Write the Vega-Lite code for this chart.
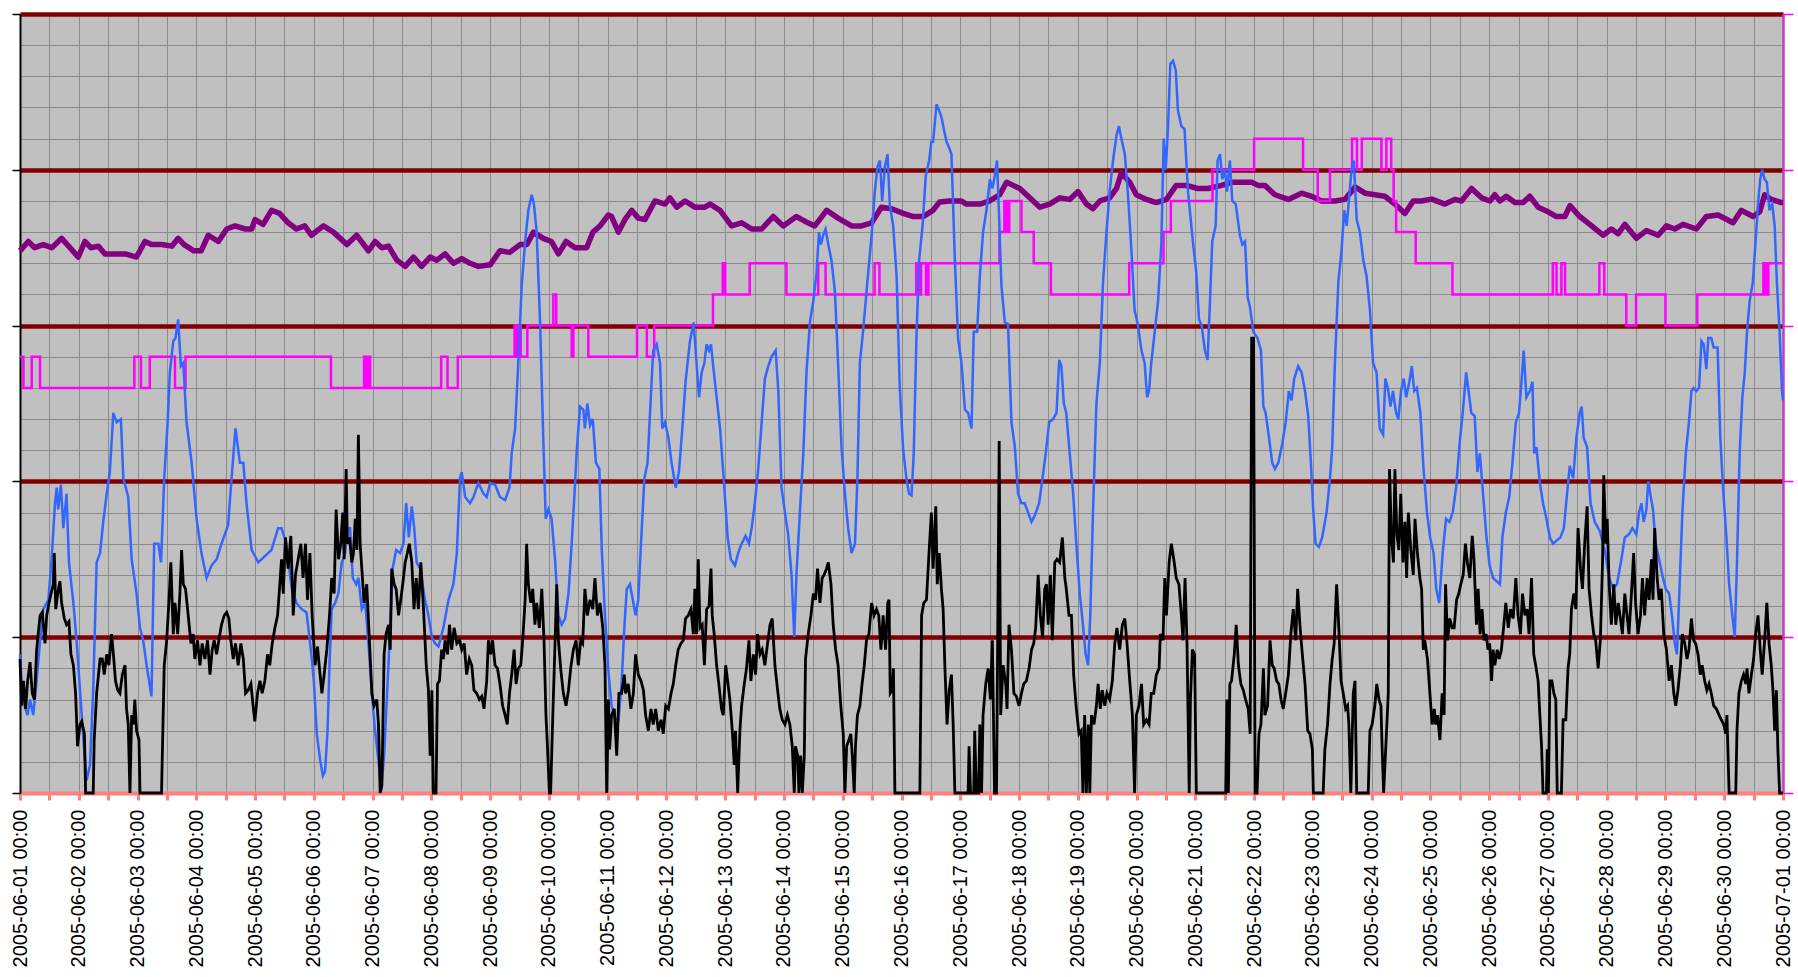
{
"$schema":"https://vega.github.io/schema/vega-lite/v6.json",
"width":1763,"height":779,
"autosize":{"type":"none"},
"padding":{"left":20,"top":14,"right":15,"bottom":184},
"background":"white",
"config":{"view":{"fill":"#C0C0C0","stroke":null},"axis":{"labelFont":"Liberation Sans"}},
"datasets":{
"purple":[{"h":0,"v":17.4},{"h":3.4,"v":17.7},{"h":6,"v":17.5},{"h":9.5,"v":17.6},{"h":13,"v":17.5},{"h":17,"v":17.8},{"h":20.4,"v":17.5},{"h":23.8,"v":17.2},{"h":26.5,"v":17.7},{"h":29,"v":17.5},{"h":32,"v":17.55},{"h":34.7,"v":17.3},{"h":38.8,"v":17.3},{"h":43,"v":17.3},{"h":47.6,"v":17.2},{"h":51,"v":17.7},{"h":53.7,"v":17.6},{"h":57.8,"v":17.6},{"h":62,"v":17.55},{"h":64.6,"v":17.8},{"h":67,"v":17.6},{"h":71,"v":17.4},{"h":74,"v":17.4},{"h":76.9,"v":17.9},{"h":81,"v":17.7},{"h":84.4,"v":18.1},{"h":87.8,"v":18.2},{"h":92,"v":18.1},{"h":94.6,"v":18.1},{"h":96,"v":18.4},{"h":99.3,"v":18.25},{"h":102.7,"v":18.7},{"h":106,"v":18.6},{"h":109.5,"v":18.3},{"h":112.9,"v":18.1},{"h":116.3,"v":18.2},{"h":119,"v":17.9},{"h":123.9,"v":18.2},{"h":128,"v":18.0},{"h":133.5,"v":17.6},{"h":137.5,"v":17.9},{"h":142.3,"v":17.4},{"h":145,"v":17.7},{"h":147.8,"v":17.5},{"h":150.5,"v":17.55},{"h":153.9,"v":17.1},{"h":157.3,"v":16.9},{"h":160.7,"v":17.2},{"h":164,"v":16.9},{"h":167.5,"v":17.2},{"h":170.2,"v":17.1},{"h":173.6,"v":17.3},{"h":177,"v":17.0},{"h":180.4,"v":17.15},{"h":183.8,"v":17.0},{"h":187.2,"v":16.9},{"h":192,"v":16.95},{"h":196,"v":17.4},{"h":200,"v":17.35},{"h":204.2,"v":17.6},{"h":207,"v":17.6},{"h":209.7,"v":18.0},{"h":213.7,"v":17.8},{"h":217,"v":17.7},{"h":219.9,"v":17.3},{"h":223,"v":17.7},{"h":226.7,"v":17.5},{"h":231.4,"v":17.5},{"h":234,"v":18.0},{"h":236.9,"v":18.2},{"h":240.3,"v":18.55},{"h":241.6,"v":18.5},{"h":244.4,"v":18.0},{"h":247,"v":18.4},{"h":249.8,"v":18.7},{"h":252.5,"v":18.45},{"h":255.2,"v":18.4},{"h":259.3,"v":19.0},{"h":263.4,"v":18.9},{"h":265.4,"v":19.1},{"h":268.2,"v":18.8},{"h":271.6,"v":19.0},{"h":275.6,"v":18.8},{"h":279.7,"v":18.8},{"h":281.8,"v":18.9},{"h":285.9,"v":18.7},{"h":290.6,"v":18.2},{"h":294.7,"v":18.3},{"h":298.8,"v":18.1},{"h":302.9,"v":18.1},{"h":307.6,"v":18.5},{"h":311.7,"v":18.2},{"h":317.1,"v":18.5},{"h":320.5,"v":18.35},{"h":324.6,"v":18.2},{"h":329.4,"v":18.7},{"h":334.1,"v":18.45},{"h":339.6,"v":18.2},{"h":343.7,"v":18.2},{"h":347.8,"v":18.3},{"h":351.8,"v":18.8},{"h":355.9,"v":18.75},{"h":360.7,"v":18.6},{"h":364.8,"v":18.5},{"h":368.8,"v":18.5},{"h":372.9,"v":18.7},{"h":375.6,"v":18.97},{"h":379.7,"v":19.0},{"h":384.5,"v":19.0},{"h":386.5,"v":18.9},{"h":392,"v":18.9},{"h":396,"v":19.0},{"h":400.1,"v":19.2},{"h":402.9,"v":19.6},{"h":405.6,"v":19.5},{"h":408.3,"v":19.4},{"h":412.4,"v":19.1},{"h":416.5,"v":18.8},{"h":420.5,"v":18.9},{"h":424.6,"v":19.1},{"h":428.7,"v":19.05},{"h":432.1,"v":19.3},{"h":435.5,"v":18.9},{"h":438.2,"v":18.75},{"h":441,"v":19.0},{"h":445,"v":19.1},{"h":447.8,"v":19.4},{"h":449.8,"v":19.9},{"h":453.2,"v":19.6},{"h":455.9,"v":19.2},{"h":460,"v":19.05},{"h":464,"v":18.95},{"h":468.2,"v":19.05},{"h":472.2,"v":19.5},{"h":476.3,"v":19.5},{"h":481,"v":19.4},{"h":485.3,"v":19.4},{"h":490.7,"v":19.5},{"h":494.8,"v":19.6},{"h":503,"v":19.6},{"h":505.7,"v":19.5},{"h":508.4,"v":19.5},{"h":512.5,"v":19.2},{"h":518,"v":19.05},{"h":523.4,"v":19.25},{"h":527.5,"v":19.15},{"h":531.6,"v":19.0},{"h":537,"v":19.0},{"h":541.1,"v":19.05},{"h":545.2,"v":19.45},{"h":549.3,"v":19.25},{"h":553.3,"v":19.2},{"h":557.4,"v":19.15},{"h":561.5,"v":18.9},{"h":565.6,"v":18.6},{"h":569,"v":19.0},{"h":572.4,"v":19.0},{"h":576.5,"v":19.06},{"h":581.9,"v":18.9},{"h":586,"v":19.05},{"h":588.7,"v":19.0},{"h":592.8,"v":19.4},{"h":596.9,"v":19.1},{"h":600.3,"v":19.0},{"h":602.3,"v":19.2},{"h":604.4,"v":19.0},{"h":607,"v":19.15},{"h":610.5,"v":18.95},{"h":613.9,"v":18.95},{"h":616.6,"v":19.15},{"h":620,"v":18.8},{"h":624.1,"v":18.65},{"h":627.5,"v":18.5},{"h":630.9,"v":18.5},{"h":633,"v":18.85},{"h":637,"v":18.5},{"h":641.1,"v":18.25},{"h":646.5,"v":17.9},{"h":649.9,"v":18.1},{"h":652.7,"v":17.95},{"h":655.4,"v":18.25},{"h":660.1,"v":17.8},{"h":664.2,"v":18.05},{"h":669,"v":17.9},{"h":672.4,"v":18.2},{"h":675.8,"v":18.1},{"h":679.2,"v":18.25},{"h":684.6,"v":18.1},{"h":688.7,"v":18.5},{"h":693.5,"v":18.55},{"h":699.6,"v":18.3},{"h":703,"v":18.7},{"h":707.8,"v":18.5},{"h":710.5,"v":18.65},{"h":712.5,"v":19.2},{"h":715.2,"v":19.05},{"h":719.3,"v":18.95},{"h":720,"v":18.95}],
"magenta":[{"h":0,"v":14},{"h":1.4,"v":13},{"h":4.8,"v":14},{"h":8.2,"v":13},{"h":46.7,"v":14},{"h":49.4,"v":13},{"h":53,"v":14},{"h":63.3,"v":13},{"h":67.6,"v":14},{"h":127,"v":13},{"h":140.5,"v":14},{"h":141.5,"v":13},{"h":142.2,"v":14},{"h":143,"v":13},{"h":172,"v":14},{"h":174.6,"v":13},{"h":178.8,"v":14},{"h":202,"v":15},{"h":202.5,"v":14},{"h":203,"v":15},{"h":203.5,"v":14},{"h":204,"v":15},{"h":204.5,"v":14},{"h":207.2,"v":15},{"h":217.8,"v":16},{"h":219,"v":15},{"h":225.3,"v":14},{"h":226,"v":15},{"h":232.1,"v":14},{"h":252,"v":15},{"h":256,"v":14},{"h":259,"v":15},{"h":283,"v":16},{"h":287,"v":17},{"h":288,"v":16},{"h":298,"v":17},{"h":313,"v":16},{"h":326,"v":17},{"h":329,"v":16},{"h":349,"v":17},{"h":351,"v":16},{"h":366,"v":17},{"h":367,"v":16},{"h":368,"v":17},{"h":370,"v":16},{"h":371,"v":17},{"h":400,"v":18},{"h":402,"v":19},{"h":402.5,"v":18},{"h":403,"v":19},{"h":403.5,"v":18},{"h":404,"v":19},{"h":409,"v":18},{"h":414,"v":17},{"h":421,"v":16},{"h":453,"v":17},{"h":467,"v":18},{"h":470,"v":19},{"h":487,"v":20},{"h":504,"v":21},{"h":524,"v":20},{"h":530,"v":19},{"h":535,"v":20},{"h":544,"v":21},{"h":546,"v":20},{"h":548,"v":21},{"h":556,"v":20},{"h":558,"v":21},{"h":560,"v":20},{"h":561,"v":19},{"h":562,"v":18},{"h":570,"v":17},{"h":585,"v":16},{"h":626,"v":17},{"h":627.5,"v":16},{"h":629.5,"v":17},{"h":631,"v":16},{"h":645,"v":17},{"h":647,"v":16},{"h":656,"v":15},{"h":660,"v":16},{"h":672,"v":15},{"h":685,"v":16},{"h":712,"v":17},{"h":713,"v":16},{"h":714,"v":17},{"h":720,"v":17}],
"blue":[{"h":0,"v":4.45},{"h":0.7,"v":3.5},{"h":2,"v":2.75},{"h":3.1,"v":2.5},{"h":4.1,"v":3.0},{"h":5.4,"v":2.5},{"h":6.8,"v":3.6},{"h":8.2,"v":4.9},{"h":9.5,"v":5.9},{"h":11.6,"v":6.2},{"h":12.9,"v":7.5},{"h":14.3,"v":9.3},{"h":15,"v":9.8},{"h":15.6,"v":9.1},{"h":16.7,"v":9.9},{"h":17.7,"v":8.5},{"h":19,"v":9.6},{"h":20,"v":7.4},{"h":21.8,"v":6.1},{"h":23.1,"v":4.9},{"h":24.5,"v":3.3},{"h":25.9,"v":1.7},{"h":27.2,"v":0.4},{"h":28.6,"v":0.9},{"h":29.9,"v":3.3},{"h":31.3,"v":7.4},{"h":32.7,"v":7.7},{"h":34,"v":8.7},{"h":35.4,"v":9.6},{"h":36.7,"v":10.3},{"h":38.1,"v":12.2},{"h":39.5,"v":11.9},{"h":41.2,"v":12.0},{"h":42.2,"v":10.1},{"h":44.2,"v":9.5},{"h":45.6,"v":7.5},{"h":47.6,"v":6.4},{"h":49,"v":5.3},{"h":50.3,"v":4.9},{"h":51.7,"v":4.1},{"h":53.7,"v":3.1},{"h":54.8,"v":8.0},{"h":56.5,"v":8.0},{"h":57.6,"v":7.4},{"h":58.9,"v":10.1},{"h":60.3,"v":11.9},{"h":61.2,"v":13.5},{"h":62.6,"v":14.5},{"h":63.5,"v":14.6},{"h":64.6,"v":15.2},{"h":65.7,"v":13.7},{"h":66.7,"v":13.8},{"h":68,"v":11.9},{"h":70.1,"v":10.6},{"h":72.1,"v":8.8},{"h":74.1,"v":7.7},{"h":76.2,"v":6.9},{"h":78.2,"v":7.3},{"h":80.3,"v":7.5},{"h":82.3,"v":8.0},{"h":85,"v":8.6},{"h":86.4,"v":10.1},{"h":88,"v":11.7},{"h":89.8,"v":10.6},{"h":91.2,"v":10.6},{"h":92.5,"v":9.3},{"h":94.6,"v":7.8},{"h":97.3,"v":7.4},{"h":100,"v":7.6},{"h":102.7,"v":7.8},{"h":105.4,"v":8.5},{"h":106.8,"v":8.5},{"h":108.8,"v":8.0},{"h":110.9,"v":6.6},{"h":112.9,"v":6.1},{"h":115,"v":5.9},{"h":117,"v":5.8},{"h":119,"v":4.45},{"h":120,"v":3.6},{"h":121.2,"v":1.9},{"h":122.6,"v":1.05},{"h":123.7,"v":0.55},{"h":124.6,"v":0.7},{"h":125.6,"v":2.0},{"h":126.4,"v":4.1},{"h":127.3,"v":5.9},{"h":128.7,"v":6.1},{"h":130,"v":6.4},{"h":131.4,"v":7.4},{"h":132.8,"v":7.7},{"h":133.7,"v":8.5},{"h":134.8,"v":8.5},{"h":135.9,"v":6.9},{"h":137.3,"v":6.7},{"h":138.2,"v":6.9},{"h":139.6,"v":5.9},{"h":141,"v":6.1},{"h":142.3,"v":4.8},{"h":143.7,"v":3.2},{"h":145,"v":2.0},{"h":146.4,"v":1.05},{"h":147.5,"v":0.1},{"h":148.7,"v":1.2},{"h":150.1,"v":3.5},{"h":151.2,"v":5.3},{"h":152.2,"v":7.2},{"h":153.6,"v":7.8},{"h":155.2,"v":7.7},{"h":156.6,"v":8.0},{"h":157.7,"v":9.3},{"h":158.8,"v":8.2},{"h":160,"v":9.2},{"h":161,"v":8.5},{"h":162,"v":7.4},{"h":163.4,"v":7.2},{"h":165.4,"v":6.2},{"h":166.8,"v":5.7},{"h":168.2,"v":5.0},{"h":169.5,"v":4.8},{"h":170.9,"v":4.7},{"h":172.9,"v":5.3},{"h":175,"v":6.2},{"h":177,"v":6.7},{"h":178.4,"v":7.7},{"h":179.7,"v":10.1},{"h":180.4,"v":10.3},{"h":181.8,"v":9.5},{"h":183.8,"v":9.3},{"h":185.2,"v":9.5},{"h":187.2,"v":9.95},{"h":189.3,"v":9.6},{"h":190.6,"v":9.5},{"h":192,"v":9.95},{"h":194,"v":9.9},{"h":196,"v":9.5},{"h":198.1,"v":9.4},{"h":199.9,"v":9.8},{"h":200.8,"v":10.9},{"h":202.2,"v":11.7},{"h":203.5,"v":13.8},{"h":204.9,"v":16.3},{"h":206.3,"v":17.7},{"h":207.6,"v":18.7},{"h":209,"v":19.2},{"h":209.9,"v":18.9},{"h":211,"v":18.0},{"h":212.4,"v":15.1},{"h":213.7,"v":11.4},{"h":214.7,"v":8.8},{"h":215.8,"v":9.1},{"h":217.1,"v":8.8},{"h":218.5,"v":7.5},{"h":219.9,"v":5.7},{"h":221.2,"v":5.4},{"h":222.6,"v":5.6},{"h":224,"v":6.4},{"h":225.3,"v":8.0},{"h":226.7,"v":9.95},{"h":227.3,"v":10.9},{"h":228.7,"v":12.4},{"h":230.1,"v":12.3},{"h":230.7,"v":11.7},{"h":231.7,"v":12.5},{"h":232.8,"v":11.8},{"h":233.9,"v":12.0},{"h":235.2,"v":10.6},{"h":236.6,"v":10.4},{"h":237.6,"v":7.8},{"h":238.9,"v":5.7},{"h":240.3,"v":3.9},{"h":241.6,"v":2.8},{"h":243,"v":2.4},{"h":244.4,"v":2.35},{"h":245.7,"v":3.5},{"h":246.8,"v":5.3},{"h":247.8,"v":6.55},{"h":249.1,"v":6.7},{"h":250.5,"v":6.1},{"h":251.4,"v":5.7},{"h":252.5,"v":6.2},{"h":253.6,"v":8.0},{"h":255,"v":10.1},{"h":256.3,"v":10.6},{"h":257.3,"v":12.2},{"h":258.6,"v":14.2},{"h":260,"v":14.4},{"h":261.4,"v":13.8},{"h":262.3,"v":11.7},{"h":263.4,"v":11.9},{"h":264.8,"v":11.4},{"h":266.1,"v":10.6},{"h":267.8,"v":9.8},{"h":269.1,"v":10.3},{"h":270.5,"v":11.7},{"h":271.8,"v":13.2},{"h":273.6,"v":14.5},{"h":275.1,"v":15.1},{"h":276.3,"v":13.8},{"h":277.3,"v":12.7},{"h":278.4,"v":13.5},{"h":279.5,"v":13.8},{"h":280.4,"v":14.4},{"h":281.4,"v":14.2},{"h":282.2,"v":14.4},{"h":283.1,"v":13.7},{"h":284.5,"v":12.7},{"h":285.9,"v":11.7},{"h":287.2,"v":10.3},{"h":289,"v":8.2},{"h":290.3,"v":7.5},{"h":292,"v":7.3},{"h":293.3,"v":7.7},{"h":294.7,"v":8.0},{"h":296.3,"v":8.25},{"h":297.7,"v":8.0},{"h":298.8,"v":8.5},{"h":300.1,"v":9.3},{"h":301.5,"v":10.4},{"h":302.9,"v":11.9},{"h":304.2,"v":13.3},{"h":305.6,"v":13.7},{"h":306.9,"v":14.0},{"h":308.6,"v":14.2},{"h":309.7,"v":12.9},{"h":311,"v":9.8},{"h":312.4,"v":9.0},{"h":313.7,"v":8.3},{"h":315.1,"v":7.0},{"h":316.2,"v":5.0},{"h":317.1,"v":7.0},{"h":318.5,"v":9.0},{"h":319.9,"v":10.9},{"h":321.2,"v":13.5},{"h":322.6,"v":15.1},{"h":324,"v":15.8},{"h":325.3,"v":16.7},{"h":326.3,"v":18.0},{"h":327.1,"v":17.6},{"h":328,"v":17.9},{"h":329,"v":18.1},{"h":330.1,"v":17.6},{"h":331.4,"v":17.1},{"h":332.8,"v":16.1},{"h":334.1,"v":13.8},{"h":335.5,"v":11.1},{"h":336.9,"v":9.6},{"h":338.2,"v":8.5},{"h":339.6,"v":7.7},{"h":341,"v":8.0},{"h":342,"v":10.1},{"h":343,"v":13.8},{"h":344.4,"v":14.9},{"h":346.4,"v":16.7},{"h":347.8,"v":17.9},{"h":349.1,"v":19.3},{"h":350.2,"v":20.1},{"h":351.2,"v":20.3},{"h":352.1,"v":19.0},{"h":353.2,"v":20.1},{"h":354.3,"v":20.5},{"h":355.2,"v":18.9},{"h":356.6,"v":18.2},{"h":358,"v":16.6},{"h":359.3,"v":13.0},{"h":360.7,"v":11.0},{"h":362,"v":10.1},{"h":363.1,"v":9.6},{"h":364.1,"v":9.55},{"h":365,"v":10.9},{"h":366.1,"v":14.6},{"h":367.2,"v":17.1},{"h":368.6,"v":18.2},{"h":369.9,"v":19.8},{"h":371.3,"v":20.3},{"h":372.2,"v":20.9},{"h":372.9,"v":20.9},{"h":374.3,"v":22.1},{"h":375.4,"v":21.9},{"h":376.3,"v":21.7},{"h":377.3,"v":21.3},{"h":378.4,"v":20.9},{"h":379.5,"v":20.7},{"h":380.4,"v":20.5},{"h":381.8,"v":17.1},{"h":383.1,"v":14.6},{"h":384.5,"v":13.8},{"h":385.9,"v":12.3},{"h":387.2,"v":12.2},{"h":388.6,"v":11.7},{"h":389.5,"v":14.8},{"h":390.9,"v":14.8},{"h":392,"v":16.6},{"h":393.3,"v":18.0},{"h":394.7,"v":18.7},{"h":396.1,"v":19.7},{"h":397.1,"v":19.4},{"h":398.1,"v":19.8},{"h":399,"v":20.3},{"h":399.9,"v":18.4},{"h":400.8,"v":16.3},{"h":402.2,"v":15.1},{"h":403.5,"v":15.05},{"h":404.9,"v":11.9},{"h":406.3,"v":11.1},{"h":407.6,"v":9.6},{"h":409,"v":9.3},{"h":410.3,"v":9.3},{"h":411.7,"v":9.0},{"h":413.1,"v":8.7},{"h":414.4,"v":8.9},{"h":416.2,"v":9.3},{"h":417.6,"v":10.1},{"h":418.9,"v":10.9},{"h":420.3,"v":11.9},{"h":421.9,"v":12.0},{"h":423.3,"v":12.2},{"h":424.4,"v":13.9},{"h":425.3,"v":13.7},{"h":426.3,"v":12.5},{"h":427.3,"v":12.2},{"h":428.7,"v":10.9},{"h":430.1,"v":9.6},{"h":431.4,"v":8.0},{"h":432.8,"v":6.4},{"h":434.1,"v":5.4},{"h":435.2,"v":4.45},{"h":436.2,"v":4.1},{"h":437.1,"v":5.7},{"h":438.2,"v":9.0},{"h":439.6,"v":12.5},{"h":441,"v":13.8},{"h":442.3,"v":16.4},{"h":443.7,"v":18.0},{"h":445,"v":19.3},{"h":446.4,"v":20.3},{"h":447.8,"v":21.1},{"h":448.8,"v":21.4},{"h":449.8,"v":21.0},{"h":451.2,"v":20.5},{"h":452.5,"v":19.2},{"h":453.9,"v":17.4},{"h":455.2,"v":15.5},{"h":456.6,"v":15.0},{"h":458,"v":14.2},{"h":459.3,"v":13.8},{"h":460.3,"v":12.7},{"h":461.1,"v":12.9},{"h":462,"v":13.8},{"h":463.4,"v":14.8},{"h":464.8,"v":15.8},{"h":466.1,"v":17.6},{"h":467.1,"v":21.0},{"h":467.9,"v":20.0},{"h":468.8,"v":21.3},{"h":469.8,"v":23.4},{"h":470.9,"v":23.5},{"h":472,"v":23.2},{"h":472.9,"v":21.9},{"h":474.3,"v":21.4},{"h":475.6,"v":21.3},{"h":477,"v":19.3},{"h":479,"v":17.7},{"h":480.4,"v":16.7},{"h":481.5,"v":15.2},{"h":482.6,"v":15.0},{"h":483.9,"v":14.2},{"h":485,"v":13.9},{"h":486,"v":15.8},{"h":486.9,"v":17.7},{"h":488.3,"v":18.2},{"h":489.1,"v":20.3},{"h":490.1,"v":20.5},{"h":491,"v":19.7},{"h":492.1,"v":20.0},{"h":492.9,"v":19.3},{"h":494.1,"v":20.3},{"h":495.1,"v":19.0},{"h":496.5,"v":18.9},{"h":498.2,"v":17.9},{"h":499.2,"v":17.6},{"h":500.3,"v":17.7},{"h":501.4,"v":15.9},{"h":502.3,"v":15.6},{"h":503.7,"v":14.8},{"h":505.4,"v":14.6},{"h":506.8,"v":14.2},{"h":507.8,"v":12.4},{"h":508.7,"v":12.2},{"h":510.1,"v":11.4},{"h":511.4,"v":10.6},{"h":512.5,"v":10.4},{"h":513.9,"v":10.6},{"h":515.5,"v":11.2},{"h":516.9,"v":11.9},{"h":518.2,"v":12.9},{"h":519.3,"v":12.6},{"h":520.4,"v":13.3},{"h":522,"v":13.7},{"h":523.4,"v":13.5},{"h":524.8,"v":12.9},{"h":526.1,"v":12.1},{"h":527.2,"v":10.6},{"h":528.2,"v":9.0},{"h":529.1,"v":8.0},{"h":530.5,"v":7.9},{"h":531.8,"v":8.2},{"h":533.6,"v":9.0},{"h":535,"v":10.1},{"h":535.9,"v":11.1},{"h":537,"v":13.8},{"h":538.4,"v":16.4},{"h":539.7,"v":17.4},{"h":540.8,"v":18.7},{"h":541.8,"v":18.2},{"h":542.7,"v":19.0},{"h":543.8,"v":20.0},{"h":544.7,"v":20.3},{"h":545.9,"v":18.4},{"h":547.2,"v":18.0},{"h":548.6,"v":17.1},{"h":549.9,"v":16.6},{"h":551.3,"v":15.5},{"h":552.6,"v":13.8},{"h":554,"v":13.5},{"h":555.3,"v":11.7},{"h":556.7,"v":11.5},{"h":557.6,"v":13.3},{"h":558.6,"v":13.0},{"h":559.7,"v":12.4},{"h":560.7,"v":12.9},{"h":562,"v":12.2},{"h":562.9,"v":12.0},{"h":564,"v":12.9},{"h":565.1,"v":13.3},{"h":566.1,"v":12.7},{"h":567.4,"v":13.2},{"h":568.4,"v":13.7},{"h":569.4,"v":12.9},{"h":570.5,"v":13.0},{"h":571.9,"v":12.2},{"h":573.2,"v":10.4},{"h":574.6,"v":9.0},{"h":575.9,"v":8.2},{"h":577.3,"v":7.7},{"h":578.4,"v":6.55},{"h":579.6,"v":6.1},{"h":581,"v":7.7},{"h":582.4,"v":8.8},{"h":583.8,"v":8.7},{"h":585.1,"v":9.0},{"h":586.5,"v":9.8},{"h":587.9,"v":11.2},{"h":589.2,"v":12.2},{"h":590.6,"v":13.5},{"h":591.6,"v":12.9},{"h":592.7,"v":12.2},{"h":594.1,"v":12.1},{"h":595.2,"v":10.3},{"h":596.2,"v":10.9},{"h":597.6,"v":9.5},{"h":598.9,"v":8.2},{"h":600.2,"v":7.3},{"h":601.6,"v":6.9},{"h":603,"v":6.8},{"h":604.4,"v":6.7},{"h":605.4,"v":8.2},{"h":606.8,"v":9.0},{"h":608.2,"v":9.5},{"h":609.5,"v":10.6},{"h":610.9,"v":11.9},{"h":612.2,"v":12.2},{"h":613.2,"v":13.2},{"h":614.1,"v":14.2},{"h":615.2,"v":12.7},{"h":616.6,"v":12.9},{"h":617.7,"v":13.2},{"h":618.4,"v":10.9},{"h":619.3,"v":11.1},{"h":620.7,"v":9.95},{"h":622,"v":9.3},{"h":623.4,"v":8.8},{"h":624.8,"v":8.2},{"h":626.1,"v":8.0},{"h":627.5,"v":8.1},{"h":629.1,"v":8.2},{"h":630.5,"v":8.5},{"h":631.8,"v":9.6},{"h":632.9,"v":10.5},{"h":634.3,"v":10.1},{"h":635.6,"v":11.4},{"h":637,"v":12.2},{"h":637.8,"v":12.4},{"h":638.6,"v":11.4},{"h":640,"v":11.1},{"h":641.4,"v":9.3},{"h":643.1,"v":8.7},{"h":645.2,"v":8.4},{"h":647.2,"v":7.8},{"h":649,"v":6.9},{"h":650.6,"v":6.55},{"h":652.2,"v":6.7},{"h":654,"v":7.5},{"h":655.4,"v":8.2},{"h":657.1,"v":8.3},{"h":658.5,"v":8.5},{"h":660.1,"v":8.3},{"h":661.2,"v":9.0},{"h":662.2,"v":9.3},{"h":663.1,"v":8.7},{"h":664.2,"v":9.1},{"h":665,"v":10.0},{"h":665.8,"v":9.6},{"h":666.9,"v":9.1},{"h":668,"v":8.0},{"h":669.4,"v":7.5},{"h":670.7,"v":7.0},{"h":672.1,"v":6.55},{"h":673.5,"v":6.4},{"h":674.8,"v":5.6},{"h":675.8,"v":4.8},{"h":676.7,"v":4.45},{"h":677.8,"v":6.7},{"h":678.9,"v":9.0},{"h":680.3,"v":10.9},{"h":681.6,"v":11.9},{"h":682.6,"v":12.9},{"h":683.5,"v":13.0},{"h":684.6,"v":12.9},{"h":685.7,"v":13.0},{"h":686.7,"v":14.5},{"h":687.6,"v":14.4},{"h":688.7,"v":13.6},{"h":689.5,"v":14.6},{"h":690.7,"v":14.6},{"h":691.7,"v":14.3},{"h":693.3,"v":14.3},{"h":694.4,"v":11.4},{"h":695.5,"v":9.8},{"h":696.9,"v":8.2},{"h":698,"v":6.7},{"h":699.3,"v":5.7},{"h":700.3,"v":5.0},{"h":701.2,"v":7.4},{"h":702.3,"v":10.9},{"h":703.4,"v":12.7},{"h":704.4,"v":13.5},{"h":705.3,"v":14.8},{"h":706.4,"v":15.8},{"h":707.7,"v":16.4},{"h":708.8,"v":17.7},{"h":709.8,"v":18.9},{"h":710.7,"v":19.7},{"h":711.5,"v":20.0},{"h":712.5,"v":19.7},{"h":713.4,"v":19.6},{"h":714.5,"v":18.7},{"h":715.6,"v":18.9},{"h":716.6,"v":18.2},{"h":717.5,"v":16.4},{"h":718.6,"v":14.8},{"h":719.6,"v":12.9},{"h":720,"v":12.6}],
"black":[{"h":0,"v":4.3},{"h":0.7,"v":2.8},{"h":1.4,"v":3.6},{"h":2.3,"v":2.7},{"h":3.1,"v":3.6},{"h":4.1,"v":4.2},{"h":5,"v":3.2},{"h":5.9,"v":3.0},{"h":6.8,"v":4.6},{"h":8.2,"v":5.7},{"h":9.1,"v":5.8},{"h":10.2,"v":4.8},{"h":10.9,"v":5.7},{"h":11.6,"v":6.0},{"h":12.7,"v":6.4},{"h":13.6,"v":6.7},{"h":14,"v":7.7},{"h":14.6,"v":5.9},{"h":15.4,"v":6.4},{"h":16.3,"v":6.8},{"h":17,"v":6.1},{"h":18.1,"v":5.6},{"h":19,"v":5.4},{"h":20,"v":5.5},{"h":20.8,"v":4.45},{"h":21.8,"v":4.1},{"h":22.7,"v":3.2},{"h":23.5,"v":1.5},{"h":24.5,"v":2.2},{"h":25.2,"v":2.3},{"h":26.3,"v":1.9},{"h":26.8,"v":0},{"h":29.9,"v":0},{"h":30.3,"v":1.7},{"h":31.3,"v":3.2},{"h":32.7,"v":4.3},{"h":33.6,"v":4.3},{"h":34.4,"v":3.8},{"h":35.4,"v":4.45},{"h":36.3,"v":4.1},{"h":37.4,"v":5.1},{"h":38.2,"v":4.4},{"h":39,"v":3.6},{"h":39.9,"v":3.3},{"h":40.8,"v":3.2},{"h":41.8,"v":3.8},{"h":42.9,"v":4.1},{"h":43.5,"v":2.7},{"h":44.2,"v":2.2},{"h":44.9,"v":0},{"h":45.6,"v":2.5},{"h":46.3,"v":2.2},{"h":46.9,"v":3.0},{"h":47.6,"v":2.0},{"h":48.6,"v":1.7},{"h":49,"v":0},{"h":57.8,"v":0},{"h":58.9,"v":4.1},{"h":59.9,"v":4.9},{"h":60.8,"v":6.1},{"h":61.6,"v":7.4},{"h":62.6,"v":5.1},{"h":63.3,"v":6.1},{"h":64.4,"v":5.1},{"h":65.3,"v":6.4},{"h":66,"v":7.8},{"h":66.7,"v":6.7},{"h":67.6,"v":6.55},{"h":68.7,"v":5.7},{"h":69.8,"v":4.8},{"h":70.7,"v":5.1},{"h":71.4,"v":4.3},{"h":72.5,"v":4.9},{"h":73.5,"v":4.1},{"h":74.4,"v":4.8},{"h":75.5,"v":4.3},{"h":76.6,"v":4.9},{"h":77.6,"v":3.8},{"h":78.5,"v":4.6},{"h":79.3,"v":4.9},{"h":80.3,"v":4.45},{"h":81.2,"v":4.9},{"h":82.3,"v":5.4},{"h":83.4,"v":5.7},{"h":84.4,"v":5.8},{"h":85.3,"v":5.6},{"h":86.1,"v":4.9},{"h":87.1,"v":4.3},{"h":88,"v":4.8},{"h":89.1,"v":4.1},{"h":90.2,"v":4.8},{"h":91.2,"v":4.3},{"h":92.1,"v":3.2},{"h":93.2,"v":3.3},{"h":94.3,"v":3.5},{"h":95.2,"v":2.8},{"h":95.9,"v":2.3},{"h":97,"v":3.2},{"h":98,"v":3.6},{"h":98.9,"v":3.2},{"h":100,"v":3.6},{"h":101.1,"v":4.45},{"h":102,"v":4.1},{"h":103,"v":4.8},{"h":104.1,"v":5.3},{"h":105.2,"v":5.7},{"h":106.1,"v":6.7},{"h":106.8,"v":7.5},{"h":107.5,"v":6.4},{"h":108.4,"v":8.2},{"h":109.5,"v":7.2},{"h":110.6,"v":8.25},{"h":111.6,"v":5.7},{"h":112.5,"v":7.0},{"h":113.6,"v":7.5},{"h":114.7,"v":8.0},{"h":115.6,"v":6.9},{"h":116.6,"v":8.0},{"h":117.4,"v":6.2},{"h":118.4,"v":7.7},{"h":119.3,"v":5.7},{"h":120.5,"v":4.1},{"h":121.5,"v":4.7},{"h":122.3,"v":4.0},{"h":123.3,"v":3.2},{"h":124.2,"v":3.8},{"h":125.3,"v":4.6},{"h":126.4,"v":5.7},{"h":127.3,"v":6.9},{"h":128.3,"v":6.4},{"h":129.1,"v":9.1},{"h":130.1,"v":7.5},{"h":131,"v":8.0},{"h":131.8,"v":9.0},{"h":132.4,"v":7.5},{"h":133.2,"v":10.4},{"h":133.7,"v":8.0},{"h":134.6,"v":8.2},{"h":135.5,"v":7.4},{"h":136.2,"v":7.7},{"h":136.9,"v":8.8},{"h":137.6,"v":7.8},{"h":138.2,"v":11.5},{"h":138.9,"v":8.0},{"h":139.6,"v":7.2},{"h":140.5,"v":6.1},{"h":141.6,"v":6.7},{"h":142.7,"v":4.9},{"h":143.7,"v":3.2},{"h":144.6,"v":2.8},{"h":145.7,"v":3.0},{"h":146.4,"v":2.2},{"h":147.1,"v":0},{"h":147.8,"v":0.25},{"h":148.7,"v":4.45},{"h":149.5,"v":5.1},{"h":150.5,"v":5.4},{"h":151.2,"v":4.6},{"h":151.8,"v":7.2},{"h":152.8,"v":6.7},{"h":153.6,"v":6.55},{"h":154.6,"v":5.7},{"h":155.5,"v":6.2},{"h":156.3,"v":6.7},{"h":157.3,"v":7.4},{"h":158.2,"v":7.7},{"h":159,"v":8.0},{"h":160,"v":7.4},{"h":160.9,"v":5.9},{"h":161.8,"v":6.9},{"h":162.7,"v":5.9},{"h":163.7,"v":7.4},{"h":164.8,"v":5.9},{"h":165.9,"v":4.1},{"h":166.8,"v":3.3},{"h":167.5,"v":1.2},{"h":168.2,"v":3.3},{"h":168.8,"v":0},{"h":169.9,"v":0},{"h":170.5,"v":3.5},{"h":171.3,"v":3.6},{"h":172.2,"v":4.6},{"h":172.9,"v":4.3},{"h":173.6,"v":4.9},{"h":174.6,"v":4.45},{"h":175.4,"v":5.4},{"h":176.3,"v":4.6},{"h":177.3,"v":5.3},{"h":178.4,"v":4.8},{"h":179.5,"v":4.9},{"h":180.4,"v":4.6},{"h":181.4,"v":4.8},{"h":182.4,"v":3.8},{"h":183.5,"v":4.3},{"h":184.5,"v":4.1},{"h":185.4,"v":3.3},{"h":186.5,"v":3.2},{"h":187.6,"v":3.0},{"h":188.6,"v":3.1},{"h":189.5,"v":2.7},{"h":190.6,"v":3.6},{"h":191.3,"v":4.9},{"h":192.2,"v":4.45},{"h":193,"v":4.9},{"h":194,"v":4.1},{"h":195,"v":4.0},{"h":196,"v":3.5},{"h":197.1,"v":2.8},{"h":198.1,"v":2.5},{"h":199,"v":2.2},{"h":199.9,"v":3.2},{"h":200.8,"v":3.8},{"h":201.8,"v":4.6},{"h":202.6,"v":3.5},{"h":203.5,"v":4.0},{"h":204.5,"v":4.1},{"h":205.3,"v":4.9},{"h":206.3,"v":6.2},{"h":206.9,"v":8.0},{"h":207.6,"v":6.7},{"h":208.6,"v":6.1},{"h":209.4,"v":6.55},{"h":210.3,"v":5.4},{"h":211,"v":6.1},{"h":212.1,"v":5.3},{"h":213.1,"v":6.55},{"h":214,"v":4.9},{"h":214.8,"v":2.5},{"h":215.4,"v":1.5},{"h":216.2,"v":0},{"h":216.7,"v":0},{"h":217.6,"v":2.5},{"h":218.5,"v":4.8},{"h":219.2,"v":6.7},{"h":219.9,"v":4.9},{"h":220.8,"v":4.0},{"h":221.9,"v":3.2},{"h":223,"v":2.8},{"h":224,"v":3.3},{"h":224.9,"v":4.0},{"h":226,"v":4.6},{"h":227.1,"v":4.9},{"h":228,"v":4.1},{"h":229,"v":4.9},{"h":229.8,"v":4.8},{"h":230.7,"v":6.55},{"h":231.7,"v":5.7},{"h":232.8,"v":6.2},{"h":233.9,"v":5.9},{"h":234.8,"v":6.9},{"h":235.8,"v":5.7},{"h":236.9,"v":6.1},{"h":238,"v":5.3},{"h":238.9,"v":4.1},{"h":239.6,"v":0},{"h":240.3,"v":3.0},{"h":240.8,"v":1.4},{"h":241.6,"v":2.5},{"h":242.7,"v":2.7},{"h":243.7,"v":1.2},{"h":244.6,"v":3.2},{"h":245.7,"v":3.2},{"h":246.8,"v":3.8},{"h":247.3,"v":3.2},{"h":248.4,"v":3.5},{"h":249.5,"v":2.7},{"h":250.5,"v":3.2},{"h":251.4,"v":4.45},{"h":252.5,"v":3.8},{"h":253.6,"v":3.6},{"h":254.6,"v":3.3},{"h":255.5,"v":2.5},{"h":256.6,"v":2.0},{"h":257.7,"v":2.7},{"h":258.6,"v":2.2},{"h":259.6,"v":2.7},{"h":260.7,"v":2.0},{"h":261.8,"v":2.35},{"h":262.7,"v":1.9},{"h":263.7,"v":2.8},{"h":264.8,"v":2.7},{"h":265.9,"v":3.2},{"h":266.8,"v":3.5},{"h":267.8,"v":4.1},{"h":268.8,"v":4.6},{"h":269.9,"v":4.8},{"h":270.9,"v":4.9},{"h":271.8,"v":5.6},{"h":272.9,"v":5.7},{"h":274,"v":5.9},{"h":275,"v":5.1},{"h":275.6,"v":6.55},{"h":276.3,"v":5.1},{"h":277,"v":7.5},{"h":277.7,"v":5.3},{"h":278.6,"v":5.4},{"h":279.5,"v":4.1},{"h":280.4,"v":5.9},{"h":281.4,"v":6.0},{"h":282.2,"v":7.2},{"h":282.7,"v":5.7},{"h":283.5,"v":5.1},{"h":284.5,"v":4.1},{"h":285.4,"v":3.5},{"h":286.5,"v":2.7},{"h":287.2,"v":2.5},{"h":288.2,"v":4.1},{"h":289,"v":3.6},{"h":289.9,"v":3.0},{"h":290.9,"v":2.0},{"h":291.7,"v":0.9},{"h":292.2,"v":2.0},{"h":293.1,"v":0},{"h":294,"v":2.0},{"h":294.7,"v":2.8},{"h":295.8,"v":3.5},{"h":296.7,"v":4.0},{"h":297.7,"v":4.9},{"h":298.5,"v":3.6},{"h":299.5,"v":4.45},{"h":300.4,"v":3.8},{"h":301.2,"v":5.1},{"h":302.2,"v":4.45},{"h":303.1,"v":4.6},{"h":304.2,"v":4.1},{"h":305.3,"v":4.8},{"h":306.3,"v":5.4},{"h":307.2,"v":5.6},{"h":308.3,"v":4.1},{"h":309.4,"v":3.3},{"h":310.3,"v":2.7},{"h":311.3,"v":2.35},{"h":312.4,"v":2.2},{"h":313.4,"v":2.5},{"h":314.4,"v":2.2},{"h":315.4,"v":1.5},{"h":316.2,"v":0},{"h":316.7,"v":1.5},{"h":317.6,"v":1.2},{"h":318.1,"v":0},{"h":318.8,"v":1.2},{"h":319.5,"v":0},{"h":320.3,"v":1.2},{"h":320.8,"v":4.3},{"h":321.9,"v":5.1},{"h":323,"v":5.7},{"h":324,"v":6.4},{"h":324.9,"v":6.2},{"h":325.7,"v":7.2},{"h":326.7,"v":6.1},{"h":327.6,"v":6.9},{"h":328.4,"v":7.0},{"h":329.4,"v":7.2},{"h":330.1,"v":7.4},{"h":331.2,"v":6.7},{"h":332.1,"v":5.4},{"h":333.1,"v":4.6},{"h":334.1,"v":4.1},{"h":335.2,"v":2.8},{"h":336.2,"v":1.9},{"h":336.9,"v":0},{"h":337.6,"v":1.5},{"h":338.5,"v":1.7},{"h":339.3,"v":1.9},{"h":339.9,"v":1.2},{"h":340.7,"v":0},{"h":341.2,"v":1.5},{"h":342,"v":2.5},{"h":343,"v":2.8},{"h":343.9,"v":3.5},{"h":344.8,"v":4.1},{"h":345.7,"v":4.9},{"h":346.7,"v":5.1},{"h":347.8,"v":6.1},{"h":348.8,"v":5.7},{"h":349.8,"v":5.9},{"h":350.7,"v":5.7},{"h":351.6,"v":4.6},{"h":352.5,"v":5.7},{"h":353.5,"v":4.6},{"h":354.4,"v":6.1},{"h":354.9,"v":6.2},{"h":355.4,"v":3.2},{"h":356.2,"v":3.3},{"h":356.7,"v":4.0},{"h":357.3,"v":0},{"h":367.5,"v":0},{"h":368.2,"v":5.7},{"h":369.1,"v":6.1},{"h":370.2,"v":6.2},{"h":371.3,"v":7.8},{"h":372.2,"v":9.0},{"h":372.9,"v":7.2},{"h":374,"v":9.2},{"h":374.6,"v":6.7},{"h":375.4,"v":7.7},{"h":376.3,"v":6.55},{"h":377,"v":5.9},{"h":377.7,"v":4.1},{"h":378.6,"v":2.2},{"h":379.5,"v":3.3},{"h":380.4,"v":3.8},{"h":381.1,"v":2.2},{"h":381.8,"v":0},{"h":387.2,"v":0},{"h":387.6,"v":1.5},{"h":388.2,"v":0},{"h":389.5,"v":0},{"h":389.9,"v":2.0},{"h":390.6,"v":0},{"h":391.5,"v":0},{"h":392,"v":2.2},{"h":392.7,"v":0},{"h":393.3,"v":2.5},{"h":394.4,"v":3.5},{"h":395.4,"v":4.0},{"h":396.3,"v":3.0},{"h":397.1,"v":4.9},{"h":398,"v":0},{"h":398.8,"v":0},{"h":399.9,"v":11.3},{"h":400.5,"v":2.5},{"h":401.5,"v":4.1},{"h":402.6,"v":3.5},{"h":403.1,"v":2.7},{"h":403.9,"v":5.4},{"h":404.9,"v":4.6},{"h":405.9,"v":3.2},{"h":406.9,"v":3.1},{"h":408,"v":2.8},{"h":409,"v":3.2},{"h":409.9,"v":3.5},{"h":411,"v":3.6},{"h":412.1,"v":4.0},{"h":413.1,"v":4.6},{"h":414,"v":4.8},{"h":414.8,"v":5.3},{"h":415.8,"v":7.0},{"h":416.7,"v":5.7},{"h":417.6,"v":5.0},{"h":418.5,"v":6.55},{"h":419.2,"v":6.7},{"h":419.9,"v":5.4},{"h":420.8,"v":7.0},{"h":421.6,"v":4.9},{"h":422.6,"v":7.4},{"h":423.5,"v":7.5},{"h":424.6,"v":7.4},{"h":425.7,"v":8.2},{"h":426.7,"v":6.9},{"h":427.3,"v":6.55},{"h":428.4,"v":5.7},{"h":429.4,"v":5.7},{"h":430.3,"v":3.8},{"h":431.4,"v":2.7},{"h":432.5,"v":1.9},{"h":433.4,"v":2.0},{"h":434.1,"v":0},{"h":434.8,"v":2.5},{"h":435.5,"v":0},{"h":436.3,"v":2.2},{"h":436.9,"v":0},{"h":437.6,"v":2.5},{"h":438.6,"v":2.2},{"h":439.6,"v":2.8},{"h":440.3,"v":3.5},{"h":441.2,"v":2.7},{"h":442,"v":3.3},{"h":443,"v":2.8},{"h":443.9,"v":3.2},{"h":445,"v":3.0},{"h":446.1,"v":3.6},{"h":447.1,"v":4.8},{"h":448,"v":5.3},{"h":449.1,"v":4.6},{"h":450.2,"v":5.4},{"h":451.2,"v":5.6},{"h":452.1,"v":4.8},{"h":453.2,"v":3.6},{"h":454.3,"v":2.5},{"h":455.2,"v":0},{"h":455.9,"v":2.5},{"h":457,"v":2.8},{"h":458,"v":3.5},{"h":458.9,"v":2.2},{"h":460,"v":2.35},{"h":461.1,"v":2.2},{"h":462,"v":3.2},{"h":463,"v":3.2},{"h":464.1,"v":3.8},{"h":465.2,"v":4.0},{"h":465.7,"v":5.1},{"h":466.8,"v":4.9},{"h":467.5,"v":6.9},{"h":468.2,"v":5.7},{"h":469.3,"v":7.4},{"h":470.2,"v":8.0},{"h":471.2,"v":7.5},{"h":472.2,"v":6.9},{"h":473.3,"v":6.7},{"h":474.3,"v":5.7},{"h":475,"v":4.9},{"h":475.8,"v":6.9},{"h":476.6,"v":4.8},{"h":477.5,"v":0},{"h":478,"v":3.0},{"h":478.8,"v":4.6},{"h":479.7,"v":4.45},{"h":480.4,"v":0},{"h":492.4,"v":0},{"h":492.9,"v":3.0},{"h":493.5,"v":0},{"h":494.1,"v":3.5},{"h":494.8,"v":3.6},{"h":495.9,"v":4.45},{"h":496.7,"v":5.4},{"h":497.6,"v":4.1},{"h":498.6,"v":3.5},{"h":499.6,"v":3.3},{"h":500.5,"v":3.0},{"h":501.6,"v":2.7},{"h":502.4,"v":1.9},{"h":503,"v":14.6},{"h":503.8,"v":14.6},{"h":504.4,"v":0},{"h":505.2,"v":0},{"h":506,"v":1.9},{"h":506.8,"v":2.2},{"h":507.8,"v":4.0},{"h":508.4,"v":2.5},{"h":509.5,"v":2.8},{"h":510.5,"v":4.9},{"h":511.4,"v":4.1},{"h":512.2,"v":4.0},{"h":513.2,"v":3.6},{"h":514.1,"v":3.5},{"h":515,"v":3.0},{"h":515.9,"v":2.7},{"h":516.9,"v":3.2},{"h":518,"v":3.8},{"h":519,"v":5.1},{"h":520,"v":5.9},{"h":521,"v":4.9},{"h":521.8,"v":6.55},{"h":522.7,"v":5.4},{"h":523.7,"v":4.45},{"h":524.8,"v":3.5},{"h":525.9,"v":2.0},{"h":526.8,"v":1.9},{"h":527.8,"v":1.4},{"h":528.2,"v":0},{"h":532.2,"v":0},{"h":532.9,"v":1.4},{"h":534,"v":2.2},{"h":535,"v":3.5},{"h":535.9,"v":4.3},{"h":536.7,"v":4.8},{"h":537.7,"v":6.7},{"h":538.6,"v":5.3},{"h":539.5,"v":3.6},{"h":540.4,"v":3.2},{"h":541.4,"v":2.7},{"h":542.2,"v":2.8},{"h":542.7,"v":2.2},{"h":543.5,"v":0},{"h":544.5,"v":3.2},{"h":545.2,"v":3.6},{"h":545.9,"v":0},{"h":550.6,"v":0},{"h":551.3,"v":2.0},{"h":552.2,"v":2.2},{"h":553.3,"v":2.8},{"h":554.1,"v":3.5},{"h":555,"v":3.0},{"h":555.8,"v":2.8},{"h":556.3,"v":1.4},{"h":556.9,"v":0},{"h":558.1,"v":2.0},{"h":558.8,"v":3.2},{"h":559.3,"v":10.4},{"h":560.1,"v":8.2},{"h":560.9,"v":7.4},{"h":561.5,"v":10.4},{"h":562.3,"v":8.3},{"h":563.1,"v":7.8},{"h":563.9,"v":9.6},{"h":564.8,"v":7.4},{"h":565.6,"v":8.7},{"h":566.3,"v":6.9},{"h":567,"v":9.0},{"h":568,"v":7.8},{"h":569,"v":7.0},{"h":569.7,"v":8.8},{"h":570.7,"v":7.7},{"h":571.7,"v":6.9},{"h":572.4,"v":6.55},{"h":573.1,"v":4.6},{"h":573.7,"v":4.9},{"h":574.8,"v":4.3},{"h":575.8,"v":3.2},{"h":576.7,"v":2.2},{"h":577.6,"v":2.7},{"h":578.1,"v":2.2},{"h":578.9,"v":2.5},{"h":579.9,"v":1.7},{"h":580.8,"v":3.2},{"h":581.6,"v":2.5},{"h":582.2,"v":6.7},{"h":583,"v":4.9},{"h":583.9,"v":5.6},{"h":584.9,"v":5.3},{"h":585.7,"v":5.3},{"h":586.7,"v":6.2},{"h":587.6,"v":6.4},{"h":588.4,"v":6.7},{"h":589.4,"v":7.0},{"h":590.3,"v":8.0},{"h":591.1,"v":7.4},{"h":592.1,"v":6.9},{"h":593.1,"v":8.25},{"h":593.8,"v":7.5},{"h":594.8,"v":5.4},{"h":595.5,"v":6.55},{"h":596.3,"v":5.1},{"h":597.1,"v":5.9},{"h":597.9,"v":4.9},{"h":598.8,"v":5.1},{"h":599.5,"v":4.6},{"h":600.2,"v":4.8},{"h":601,"v":3.6},{"h":601.6,"v":4.6},{"h":602.3,"v":4.1},{"h":603.3,"v":4.6},{"h":604.1,"v":4.3},{"h":605,"v":4.6},{"h":606,"v":5.4},{"h":606.8,"v":6.1},{"h":607.8,"v":5.3},{"h":608.7,"v":5.9},{"h":609.8,"v":5.6},{"h":610.9,"v":6.9},{"h":611.8,"v":5.7},{"h":612.8,"v":5.1},{"h":613.6,"v":6.4},{"h":614.6,"v":5.7},{"h":615.5,"v":5.9},{"h":616.3,"v":5.1},{"h":617.3,"v":6.9},{"h":618.2,"v":4.45},{"h":619,"v":4.1},{"h":620,"v":3.6},{"h":620.7,"v":2.5},{"h":621.4,"v":1.5},{"h":622,"v":0},{"h":623.4,"v":0},{"h":623.7,"v":1.4},{"h":624.2,"v":0},{"h":624.8,"v":3.6},{"h":625.6,"v":3.6},{"h":626.4,"v":3.2},{"h":627.2,"v":3.0},{"h":627.8,"v":0},{"h":629.5,"v":0},{"h":630.2,"v":2.35},{"h":631.3,"v":2.35},{"h":632.2,"v":4.0},{"h":632.9,"v":4.45},{"h":633.6,"v":5.9},{"h":634.6,"v":6.4},{"h":635.4,"v":5.9},{"h":636.3,"v":8.5},{"h":637.3,"v":7.2},{"h":638.1,"v":6.55},{"h":639,"v":8.0},{"h":640,"v":9.2},{"h":640.8,"v":6.55},{"h":641.8,"v":5.7},{"h":642.7,"v":5.1},{"h":643.5,"v":4.9},{"h":644.5,"v":4.0},{"h":645.4,"v":4.9},{"h":646.3,"v":7.4},{"h":646.8,"v":10.2},{"h":647.6,"v":8.0},{"h":648.2,"v":8.8},{"h":649,"v":6.7},{"h":649.9,"v":5.4},{"h":650.9,"v":6.7},{"h":651.7,"v":5.4},{"h":652.7,"v":6.1},{"h":653.6,"v":5.6},{"h":654.4,"v":5.1},{"h":655.4,"v":6.4},{"h":656.3,"v":5.7},{"h":657.1,"v":5.1},{"h":658.1,"v":6.4},{"h":659,"v":7.7},{"h":659.8,"v":6.1},{"h":660.8,"v":5.1},{"h":661.8,"v":5.7},{"h":662.6,"v":6.9},{"h":663.5,"v":5.7},{"h":664.5,"v":6.9},{"h":665.3,"v":6.2},{"h":666.3,"v":7.5},{"h":666.9,"v":6.2},{"h":667.6,"v":8.5},{"h":668.6,"v":6.9},{"h":669.4,"v":6.2},{"h":670.3,"v":6.55},{"h":671.3,"v":5.1},{"h":672.4,"v":4.6},{"h":673.5,"v":3.6},{"h":674.4,"v":4.1},{"h":675.4,"v":3.2},{"h":676.2,"v":2.8},{"h":677.1,"v":3.3},{"h":678.1,"v":4.1},{"h":678.9,"v":5.1},{"h":679.9,"v":4.8},{"h":680.8,"v":4.3},{"h":681.6,"v":4.6},{"h":682.6,"v":5.6},{"h":683.5,"v":4.9},{"h":684.3,"v":4.8},{"h":685.3,"v":4.45},{"h":686.2,"v":3.8},{"h":687,"v":4.1},{"h":688,"v":3.6},{"h":688.9,"v":3.3},{"h":689.8,"v":3.5},{"h":690.7,"v":3.2},{"h":691.7,"v":2.8},{"h":692.8,"v":2.7},{"h":693.9,"v":2.5},{"h":694.8,"v":2.35},{"h":695.8,"v":2.2},{"h":696.6,"v":1.9},{"h":697.1,"v":2.5},{"h":698,"v":0},{"h":700.7,"v":0},{"h":701.2,"v":2.0},{"h":702,"v":3.2},{"h":703,"v":3.6},{"h":703.9,"v":3.8},{"h":704.8,"v":3.5},{"h":705.3,"v":4.0},{"h":706.1,"v":3.2},{"h":707.1,"v":3.8},{"h":708,"v":4.3},{"h":708.8,"v":5.1},{"h":709.8,"v":5.7},{"h":710.7,"v":4.6},{"h":711.5,"v":3.8},{"h":712.5,"v":4.9},{"h":713.4,"v":6.1},{"h":714.3,"v":4.8},{"h":715.2,"v":4.1},{"h":715.9,"v":3.3},{"h":716.6,"v":2.0},{"h":717.3,"v":3.3},{"h":717.9,"v":1.4},{"h":718.6,"v":0},{"h":720,"v":0}]
},
"encoding":{"x":{"field":"h","type":"quantitative","scale":{"domain":[0,720],"nice":false,"zero":false},
 "axis":{"title":null,"values":[0,12,24,36,48,60,72,84,96,108,120,132,144,156,168,180,192,204,216,228,240,252,264,276,288,300,312,324,336,348,360,372,384,396,408,420,432,444,456,468,480,492,504,516,528,540,552,564,576,588,600,612,624,636,648,660,672,684,696,708,720],"tickCount":200,
 "grid":true,"gridColor":"#8C8C8C","gridWidth":1,"domainColor":"#FF8080","domainWidth":4,"tickColor":"#FF8080","tickWidth":3,"tickSize":7,
 "labelAngle":270,"labelFontSize":20,"labelColor":"#000000","labelPadding":9,"labelFlush":false,"labelOverlap":false,"labelBound":false,
 "labelExpr":"datum.value % 24 === 0 ? timeFormat(datetime(2005, 5, 1 + datum.value / 24), '%Y-%m-%d %H:%M') : ''"}}},
"layer":[
 {"layer":[
  {"data":{"name":"purple"},"mark":{"type":"line","color":"#800080","strokeWidth":5.5,"strokeJoin":"round"},
   "encoding":{"y":{"field":"v","type":"quantitative","scale":{"domain":[0,25],"nice":false,"zero":true},
    "axis":{"title":null,"values":[0,1,2,3,4,5,6,7,8,9,10,11,12,13,14,15,16,17,18,19,20,21,22,23,24,25],"tickCount":200,"labels":false,"grid":true,
     "gridColor":{"condition":{"test":"datum.value % 5 === 0","value":"#800000"},"value":"#8C8C8C"},
     "gridWidth":{"condition":{"test":"datum.value % 5 === 0 && datum.value > 0","value":4.5},"value":1},
     "domainColor":"#000000","domainWidth":2,"tickColor":"#000000","tickWidth":1.5,"tickSize":8,
     "tickOpacity":{"condition":{"test":"datum.value % 5 === 0","value":1},"value":0}}}}},
  {"data":{"name":"magenta"},"mark":{"type":"line","color":"#FF00FF","strokeWidth":2.5,"interpolate":"step-after"},
   "encoding":{"y":{"field":"v","type":"quantitative"}}},
  {"data":{"name":"blue"},"mark":{"type":"line","color":"#3366FF","strokeWidth":2.5},
   "encoding":{"y":{"field":"v","type":"quantitative"}}},
  {"data":{"name":"black"},"mark":{"type":"line","color":"#000000","strokeWidth":2.8},
   "encoding":{"y":{"field":"v","type":"quantitative"}}}
 ]},
 {"data":{"name":"magenta"},"mark":{"type":"line","opacity":0},
  "encoding":{"y":{"field":"v","type":"quantitative","scale":{"domain":[0,25],"nice":false,"zero":true},
   "axis":{"orient":"right","title":null,"values":[0,5,10,15,20,25],"tickCount":200,"labels":false,"grid":false,"domainColor":"#C040C0","domainWidth":2.5,"tickColor":"#FF00FF","tickWidth":1.5,"tickSize":10}}}}
],
"resolve":{"scale":{"y":"independent"}}
}
